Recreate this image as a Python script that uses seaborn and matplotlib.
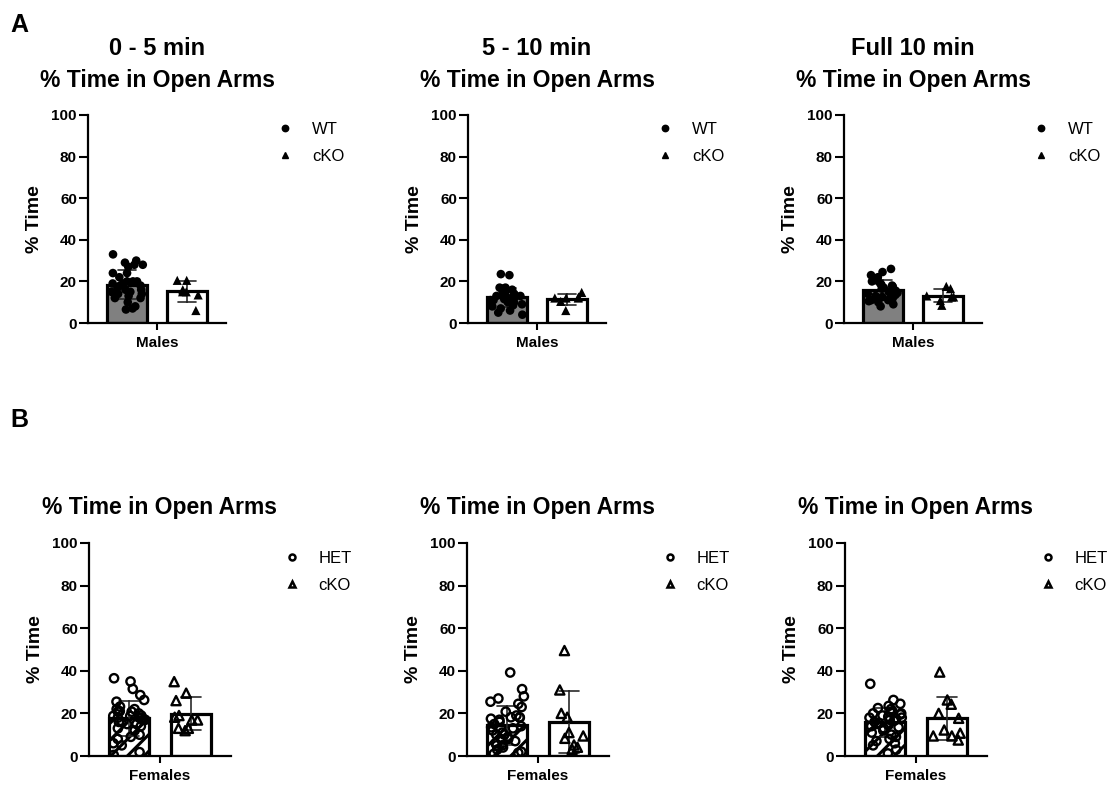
import warnings

import numpy as np
import pandas as pd
import matplotlib
matplotlib.use("Agg")
import matplotlib.pyplot as plt
from matplotlib.lines import Line2D
import seaborn as sns

warnings.filterwarnings("ignore")

sns.set_theme(style="ticks")
plt.rcParams["font.family"] = ["Liberation Sans", "DejaVu Sans"]
plt.rcParams["hatch.linewidth"] = 2.2
plt.rcParams["hatch.color"] = "black"
for key in ("text.color", "axes.labelcolor", "xtick.color", "ytick.color"):
    plt.rcParams[key] = "black"

np.random.seed(7)  # reproducible horizontal jitter of the scatter points

# ---- data: % time spent in the open arms ----
groups_male = ["WT", "cKO"]
groups_female = ["HET", "cKO"]
y_ticks = [0, 20, 40, 60, 80, 100]
window_titles = ["0 - 5 min", "5 - 10 min", "Full 10 min"]

male_wt_0_5 = [33, 30, 29, 28, 28, 27, 24, 24, 22, 20, 20, 20, 19, 19, 18,
               18, 17, 16, 16, 15, 15, 14, 14, 13, 12, 12, 10, 8, 7, 6.5]
male_cko_0_5 = [20.5, 20.5, 16, 15, 15, 13.5, 6]

male_wt_5_10 = [23.5, 23, 17, 17, 16.5, 16, 15, 15, 14, 14, 13, 13, 12.5, 13, 13,
                12, 12, 11.5, 11, 11, 10, 10, 9.5, 9, 8.5, 8, 7, 6, 5, 4]
male_cko_5_10 = [14.7, 12.5, 12, 12, 12, 10.4, 6]

male_wt_full = [26, 24.5, 23, 22, 21, 20.5, 20, 19, 18.5, 18, 17.5, 17, 16.5, 16, 15.5,
                15, 15, 14.5, 14, 13.5, 13, 12.5, 12, 12, 11, 11, 10.5, 10, 9, 8]
male_cko_full = [17.6, 16.5, 12.5, 12.5, 13, 10.8, 8.5]

female_het_0_5 = [36.5, 35, 31.5, 28.6, 26.3, 25.5, 23.2, 22, 22, 21, 20.8, 20.8,
                  20, 19, 18.8, 18.8, 18, 17, 16, 18, 18, 17, 16, 15, 15, 14, 13,
                  12, 10, 9, 8, 6, 5, 1.8, 0.5]
female_cko_0_5 = [34.9, 29.5, 26, 19, 18.2, 16.9, 16.9, 13, 13, 11.9]

female_het_5_10 = [39.2, 31.4, 28, 27, 25.5, 24.5, 23, 20.8, 19, 18.2, 18.2, 18,
                   17.5, 17, 16, 15, 14, 13.5, 13, 12, 11, 10, 10, 9, 8, 8, 7, 6,
                   5, 5, 4, 3, 2, 1.5, 1]
female_cko_5_10 = [49.5, 31, 18.2, 20, 11, 9.4, 8.3, 5.2, 3.1, 4.1]

female_het_full = [33.9, 26.3, 24.5, 23.5, 22.5, 22, 21, 20.5, 20, 20, 19.5, 19,
                   18.5, 18, 18, 17.5, 17, 16.5, 16, 15.5, 15, 14.5, 14, 13.5, 13,
                   12, 11, 10, 9, 8, 7, 6, 5, 3, 1.2]
female_cko_full = [39.4, 26.3, 24.3, 20, 17.7, 12.2, 10.7, 7.5, 9.4, 9.4]

# ---- layout (pixels on a 1114 x 787 canvas) ----
W, H = 1114, 787
fig = plt.figure(figsize=(W / 100, H / 100), dpi=100)


def add_axes(left, right, top, bottom):
    return fig.add_axes([left / W, 1 - bottom / H, (right - left) / W, (bottom - top) / H])


male_style = dict(fill=["#808080", "white"], hatch=[None, None],
                  marker=["o", "^"], hollow=False, edge=0.0,
                  size=[6.2, 6.6], sex="Males", gap=0.33)
female_style = dict(fill=["white", "white"], hatch=["//", None],
                    marker=["o", "^"], hollow=True, edge=1.7,
                    size=[6.0, 6.6], sex="Females", gap=0.35)


def draw_panel(ax, labels, values, st):
    df = pd.DataFrame({
        "sex": st["sex"],
        "group": np.repeat(labels, [len(v) for v in values]),
        "pct": np.concatenate([np.asarray(v, float) for v in values]),
    })
    sns.barplot(data=df, x="sex", y="pct", hue="group", hue_order=labels,
                palette=dict(zip(labels, st["fill"])), saturation=1,
                errorbar="sd", capsize=0.25,
                err_kws={"color": "#2a2a2a", "linewidth": 1.2},
                width=0.8, gap=st["gap"], edgecolor="black", linewidth=2.3,
                legend=False, ax=ax)
    for container, hatch in zip(ax.containers, st["hatch"]):
        if hatch:
            for bar in container:
                bar.set_hatch(hatch)
    for lab, mk, sz in zip(labels, st["marker"], st["size"]):
        sub = df[df["group"] == lab]
        n_before = len(ax.collections)
        sns.stripplot(data=sub, x="sex", y="pct", hue="group", hue_order=labels,
                      dodge=True, jitter=0.22, marker=mk, size=sz,
                      palette={l: "black" for l in labels},
                      edgecolor="black", linewidth=st["edge"],
                      legend=False, ax=ax)
        if st["hollow"]:
            for coll in ax.collections[n_before:]:
                coll.set_facecolor("none")
                coll.set_edgecolor("black")

    ax.set_xlim(-0.46, 0.46)
    ax.set_ylim(0, 100)
    ax.set_yticks(y_ticks)
    ax.set_xlabel("")
    ax.set_ylabel("% Time", fontsize=14, fontweight="bold", color="black")
    ax.yaxis.set_label_coords(-45 / ax.bbox.width, 0.5)
    sns.despine(ax=ax)
    for side in ("left", "bottom"):
        ax.spines[side].set_linewidth(1.6)
        ax.spines[side].set_color("black")
    ax.tick_params(axis="y", length=6.5, width=1.5, pad=1.5, labelsize=11)
    ax.tick_params(axis="x", length=5, width=1.5, pad=4, labelsize=11)
    for t in ax.get_xticklabels() + ax.get_yticklabels():
        t.set_fontweight("bold")

    # legend to the right of the axes
    if st["hollow"]:
        handles = [Line2D([], [], ls="", marker=m, markersize=s,
                          markerfacecolor="white", markeredgecolor="black",
                          markeredgewidth=1.8)
                   for m, s in zip(st["marker"], [4.3, 4.7])]
    else:
        handles = [Line2D([], [], ls="", marker=m, markersize=s, color="black")
                   for m, s in zip(st["marker"], [4.6, 4.8])]
    ax.legend(handles, labels, loc="center left", bbox_to_anchor=(1.37, 0.865),
              frameon=False, fontsize=12, handlelength=1.0, handletextpad=1.1,
              labelspacing=0.75, borderpad=0, borderaxespad=0)


male_sets = [(male_wt_0_5, male_cko_0_5), (male_wt_5_10, male_cko_5_10),
             (male_wt_full, male_cko_full)]
female_sets = [(female_het_0_5, female_cko_0_5), (female_het_5_10, female_cko_5_10),
               (female_het_full, female_cko_full)]

male_axes_px = [(88, 226), (468, 606), (844, 982)]
female_axes_px = [(89, 231), (467, 609), (845, 987)]

for (l, r), vals, title in zip(male_axes_px, male_sets, window_titles):
    ax = add_axes(l, r, 115, 323)
    draw_panel(ax, groups_male, vals, male_style)
    h = ax.bbox.height
    ax.text(0.5, 1 + 60 / h, title, transform=ax.transAxes, ha="center",
            va="baseline", fontsize=17, fontweight="bold")
    ax.text(0.5, 1 + 28 / h, "% Time in Open Arms", transform=ax.transAxes,
            ha="center", va="baseline", fontsize=16.5, fontweight="bold")

for (l, r), vals in zip(female_axes_px, female_sets):
    ax = add_axes(l, r, 543, 756)
    draw_panel(ax, groups_female, vals, female_style)
    h = ax.bbox.height
    ax.text(0.5, 1 + 29 / h, "% Time in Open Arms", transform=ax.transAxes,
            ha="center", va="baseline", fontsize=16.5, fontweight="bold")

fig.text(10 / W, 1 - 32 / H, "A", fontsize=18, fontweight="bold", va="baseline")
fig.text(10 / W, 1 - 427 / H, "B", fontsize=18, fontweight="bold", va="baseline")

fig.savefig("out.png", dpi=100, facecolor="white")
